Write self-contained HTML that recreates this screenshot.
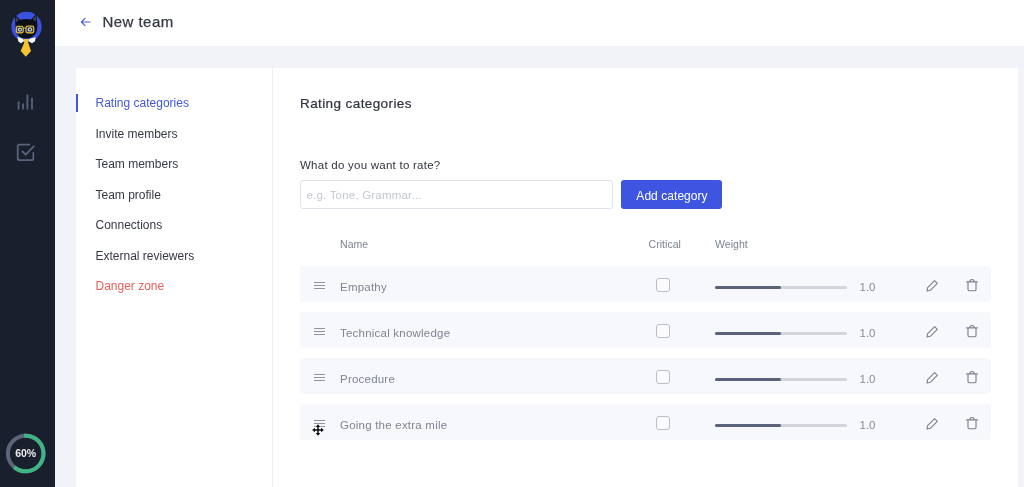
<!DOCTYPE html>
<html lang="en">
<head>
<meta charset="utf-8">
<title>New team</title>
<style>
*{box-sizing:border-box;margin:0;padding:0}
html,body{width:1024px;height:487px;overflow:hidden;background:#f1f3f9;font-family:"Liberation Sans",sans-serif;color:#2c3140}
.abs{position:absolute}
#side{position:absolute;left:0;top:0;width:55px;height:487px;background:#1a1f2d}
#head{position:absolute;left:55px;top:0;width:969px;height:46px;background:#fff}
#head .title{position:absolute;left:47.5px;top:13px;font-size:15px;line-height:18px;color:#343844;letter-spacing:0.45px;white-space:nowrap;-webkit-text-stroke:0.25px #343844}
#panel{position:absolute;left:76px;top:67.5px;width:942px;height:420px;background:#fff}
#nav{position:absolute;left:0;top:-0.5px;width:197px;height:420px;border-right:1px solid #eceef2}
#nav .it{position:absolute;left:19.5px;font-size:12px;line-height:14px;color:#353945;white-space:nowrap;letter-spacing:0}
#nav .act{color:#4358d8}
#nav .dz{color:#e8605a}
#nav .bar{position:absolute;left:0;top:27px;width:2px;height:18px;background:#4358d8}
#main{position:absolute;left:198px;top:-0.5px;width:744px;height:420px}
.h2{position:absolute;left:26px;top:29px;font-size:13.5px;line-height:16px;color:#30343f;letter-spacing:0.4px;white-space:nowrap;-webkit-text-stroke:0.22px #343844}
.lbl{position:absolute;left:26px;top:91px;font-size:11.5px;line-height:14px;color:#30343f;letter-spacing:0.25px;white-space:nowrap}
.inp{position:absolute;left:26px;top:113px;width:313px;height:29px;border:1px solid #dfe2e8;border-radius:3px;background:#fff;font-size:11.5px;line-height:29.5px;padding-left:5.5px;color:#c3c7cf;letter-spacing:0.2px;white-space:nowrap}
.btn{position:absolute;left:347px;top:112.5px;width:101px;height:29.5px;border-radius:3px;background:#3d55e0;color:#fff;font-size:12px;line-height:32px;text-align:center;letter-spacing:0.05px;padding-left:1px;white-space:nowrap}
.th{position:absolute;top:171px;font-size:10.5px;line-height:12px;color:#7b8291;letter-spacing:0.05px;white-space:nowrap}
.row{position:absolute;left:26px;width:691px;height:36px;background:#f7f8fb;border-radius:4px}
.row .nm{position:absolute;left:40px;top:14px;font-size:11.5px;line-height:14px;color:#7e8492;letter-spacing:0.22px;white-space:nowrap}
.row .hb{position:absolute;left:14.2px;top:15.5px;width:11px;height:8px}
.row .hb i{position:absolute;left:0;width:11px;height:1.2px;background:#8f95a0}
.row .cb{position:absolute;left:355.7px;top:11.5px;width:14px;height:14px;border:1.3px solid #b9bdc6;border-radius:3px;background:#fbfbfd}
.row .tr{position:absolute;left:414.5px;top:19.5px;width:132px;height:3px;border-radius:2px;background:#d2d5db}
.row .tr b{position:absolute;left:0;top:0;width:66px;height:3px;border-radius:2px;background:#5a6379}
.row .val{position:absolute;left:559.5px;top:14px;font-size:11.5px;line-height:14px;color:#858b98;white-space:nowrap}
.row svg{position:absolute}
</style>
</head>
<body>
<div id="side">
  <svg class="abs" style="left:0;top:0" width="55" height="80" viewBox="0 0 55 80">
    <circle cx="26.5" cy="26.9" r="15.1" fill="#3a53df"/>
    <path d="M14.8 14.6 L20 19.8 Q26 18.2 31.2 19.4 L36.3 13.4 L37.3 24 Q37.4 31 35.5 34 Q31.5 38.6 26 38.6 Q20.5 38.6 17 34 Q15.2 30 15.3 24 Z" fill="#0c0f16"/>
    <path d="M15.5 16.2 L18.8 20 L15.9 22.4 Z M35.8 15 L36.2 21.6 L32.6 19.6 Z" fill="#3b404c"/>
    <path d="M17.4 36.8 L22.6 38.8 L24.2 41 L21 43.2 L18.4 41.4 Z M35.6 37.2 L29.6 38.8 L28.4 41 L32 43.2 L35 41.2 Z" fill="#ffffff"/>
    <path d="M23.4 38.9 L29 38.9 L28.1 42.4 L31 51 L25.8 56.7 L20.7 51 L24.3 42.4 Z" fill="#f6c431"/>
    <rect x="16.3" y="26.3" width="6.9" height="6.6" rx="1.6" fill="#3a3e48" stroke="#eec53a" stroke-width="1.1"/>
    <rect x="25.9" y="26" width="7.9" height="6.9" rx="1.6" fill="#3a3e48" stroke="#eec53a" stroke-width="1.1"/>
    <path d="M23.2 28.4 Q24.5 27.6 25.9 28.3" fill="none" stroke="#eec53a" stroke-width="1"/>
    <circle cx="19.9" cy="29.6" r="2.1" fill="#c9cdd4"/><circle cx="29.9" cy="29.4" r="2.2" fill="#c9cdd4"/>
    <circle cx="20" cy="29.6" r="0.9" fill="#1b1e27"/><circle cx="30" cy="29.4" r="0.95" fill="#1b1e27"/>
  </svg>
  <svg class="abs" style="left:0;top:85px" width="55" height="90" viewBox="0 85 55 90" fill="none" stroke="#59637a" stroke-width="1.8" stroke-linecap="round" stroke-linejoin="round">
    <path d="M18.6 102.2V108.8M23 104.2V108.8M27.4 95.4V108.8M32 98.4V108.8"/>
    <path d="M33.3 153v5.2a2 2 0 0 1-2 2H19.7a2 2 0 0 1-2-2v-11.6a2 2 0 0 1 2-2h9.6"/>
    <path d="M22.5 151.5l3.2 3.2 8-8.4"/>
  </svg>
  <svg class="abs" style="left:0;top:427px" width="55" height="55" viewBox="0 427 55 55">
    <circle cx="25.7" cy="453.5" r="17.8" fill="none" stroke="#5d6579" stroke-width="4"/>
    <circle cx="25.7" cy="453.5" r="17.8" fill="none" stroke="#3fb485" stroke-width="4" stroke-dasharray="69.5 111.84" transform="rotate(-95 25.7 453.5)"/>
    <text x="25.7" y="457.3" text-anchor="middle" font-family="Liberation Sans, sans-serif" font-size="10.5" font-weight="bold" fill="#e9ebef">60%</text>
  </svg>
</div>
<div id="head">
  <svg class="abs" style="left:25px;top:16px" width="12" height="12" viewBox="0 0 12 12" fill="none" stroke="#4a5fd8" stroke-width="1.2" stroke-linecap="round" stroke-linejoin="round"><path d="M10 6H1.6M5 2.4L1.4 6l3.6 3.6"/></svg>
  <div class="title">New team</div>
</div>
<div id="panel">
  <div id="nav">
    <div class="bar"></div>
    <div class="it act" style="top:29px">Rating categories</div>
    <div class="it" style="top:59.5px">Invite members</div>
    <div class="it" style="top:90px">Team members</div>
    <div class="it" style="top:120.5px">Team profile</div>
    <div class="it" style="top:151px">Connections</div>
    <div class="it" style="top:181.5px">External reviewers</div>
    <div class="it dz" style="top:212px">Danger zone</div>
  </div>
  <div id="main">
    <div class="h2">Rating categories</div>
    <div class="lbl">What do you want to rate?</div>
    <div class="inp">e.g. Tone, Grammar...</div>
    <div class="btn">Add category</div>
    <div class="th" style="left:66px">Name</div>
    <div class="th" style="left:374.5px">Critical</div>
    <div class="th" style="left:441px">Weight</div>

    <div class="row" style="top:199px">
      <div class="hb"><i style="top:0"></i><i style="top:3.3px"></i><i style="top:6.6px"></i></div>
      <div class="nm">Empathy</div>
      <div class="cb"></div>
      <div class="tr"><b></b></div>
      <div class="val">1.0</div>
      <svg style="left:625px;top:12.5px" width="14" height="14" viewBox="0 0 14 14" fill="none" stroke="#7d8391" stroke-width="1.15" stroke-linejoin="round"><path d="M9.6 1.6l2.7 2.7-7 7-3.3.7.6-3.4z"/></svg>
      <svg style="left:665px;top:12px" width="14" height="14" viewBox="0 0 14 14" fill="none" stroke="#7d8391" stroke-width="1.15" stroke-linecap="round" stroke-linejoin="round"><path d="M1.6 3.9h10.8M3 3.9v7.6a1.2 1.2 0 0 0 1.2 1.2h5.6a1.2 1.2 0 0 0 1.2-1.2V3.9M4.8 3.7a2.2 2.2 0 0 1 4.4 0"/></svg>
    </div>
    <div class="row" style="top:245px">
      <div class="hb"><i style="top:0"></i><i style="top:3.3px"></i><i style="top:6.6px"></i></div>
      <div class="nm">Technical knowledge</div>
      <div class="cb"></div>
      <div class="tr"><b></b></div>
      <div class="val">1.0</div>
      <svg style="left:625px;top:12.5px" width="14" height="14" viewBox="0 0 14 14" fill="none" stroke="#7d8391" stroke-width="1.15" stroke-linejoin="round"><path d="M9.6 1.6l2.7 2.7-7 7-3.3.7.6-3.4z"/></svg>
      <svg style="left:665px;top:12px" width="14" height="14" viewBox="0 0 14 14" fill="none" stroke="#7d8391" stroke-width="1.15" stroke-linecap="round" stroke-linejoin="round"><path d="M1.6 3.9h10.8M3 3.9v7.6a1.2 1.2 0 0 0 1.2 1.2h5.6a1.2 1.2 0 0 0 1.2-1.2V3.9M4.8 3.7a2.2 2.2 0 0 1 4.4 0"/></svg>
    </div>
    <div class="row" style="top:291px">
      <div class="hb"><i style="top:0"></i><i style="top:3.3px"></i><i style="top:6.6px"></i></div>
      <div class="nm">Procedure</div>
      <div class="cb"></div>
      <div class="tr"><b></b></div>
      <div class="val">1.0</div>
      <svg style="left:625px;top:12.5px" width="14" height="14" viewBox="0 0 14 14" fill="none" stroke="#7d8391" stroke-width="1.15" stroke-linejoin="round"><path d="M9.6 1.6l2.7 2.7-7 7-3.3.7.6-3.4z"/></svg>
      <svg style="left:665px;top:12px" width="14" height="14" viewBox="0 0 14 14" fill="none" stroke="#7d8391" stroke-width="1.15" stroke-linecap="round" stroke-linejoin="round"><path d="M1.6 3.9h10.8M3 3.9v7.6a1.2 1.2 0 0 0 1.2 1.2h5.6a1.2 1.2 0 0 0 1.2-1.2V3.9M4.8 3.7a2.2 2.2 0 0 1 4.4 0"/></svg>
    </div>
    <div class="row" style="top:337px">
      <div class="hb"><i style="top:0"></i><i style="top:3.3px"></i><i style="top:6.6px"></i></div>
      <svg style="left:11px;top:18.8px" width="14" height="14" viewBox="-7 -7 14 14"><g fill="#0b0b0d" stroke="#fff" stroke-width="0.9" paint-order="stroke" stroke-linejoin="round"><path d="M0 -5.8L2.3 -3.1H0.75V-0.75H3.1V-2.3L5.8 0L3.1 2.3V0.75H0.75V3.1H2.3L0 5.8L-2.3 3.1H-0.75V0.75H-3.1V2.3L-5.8 0L-3.1 -2.3V-0.75H-0.75V-3.1H-2.3Z"/></g></svg>
      <div class="nm">Going the extra mile</div>
      <div class="cb"></div>
      <div class="tr"><b></b></div>
      <div class="val">1.0</div>
      <svg style="left:625px;top:12.5px" width="14" height="14" viewBox="0 0 14 14" fill="none" stroke="#7d8391" stroke-width="1.15" stroke-linejoin="round"><path d="M9.6 1.6l2.7 2.7-7 7-3.3.7.6-3.4z"/></svg>
      <svg style="left:665px;top:12px" width="14" height="14" viewBox="0 0 14 14" fill="none" stroke="#7d8391" stroke-width="1.15" stroke-linecap="round" stroke-linejoin="round"><path d="M1.6 3.9h10.8M3 3.9v7.6a1.2 1.2 0 0 0 1.2 1.2h5.6a1.2 1.2 0 0 0 1.2-1.2V3.9M4.8 3.7a2.2 2.2 0 0 1 4.4 0"/></svg>
    </div>
  </div>
</div>
</body>
</html>
